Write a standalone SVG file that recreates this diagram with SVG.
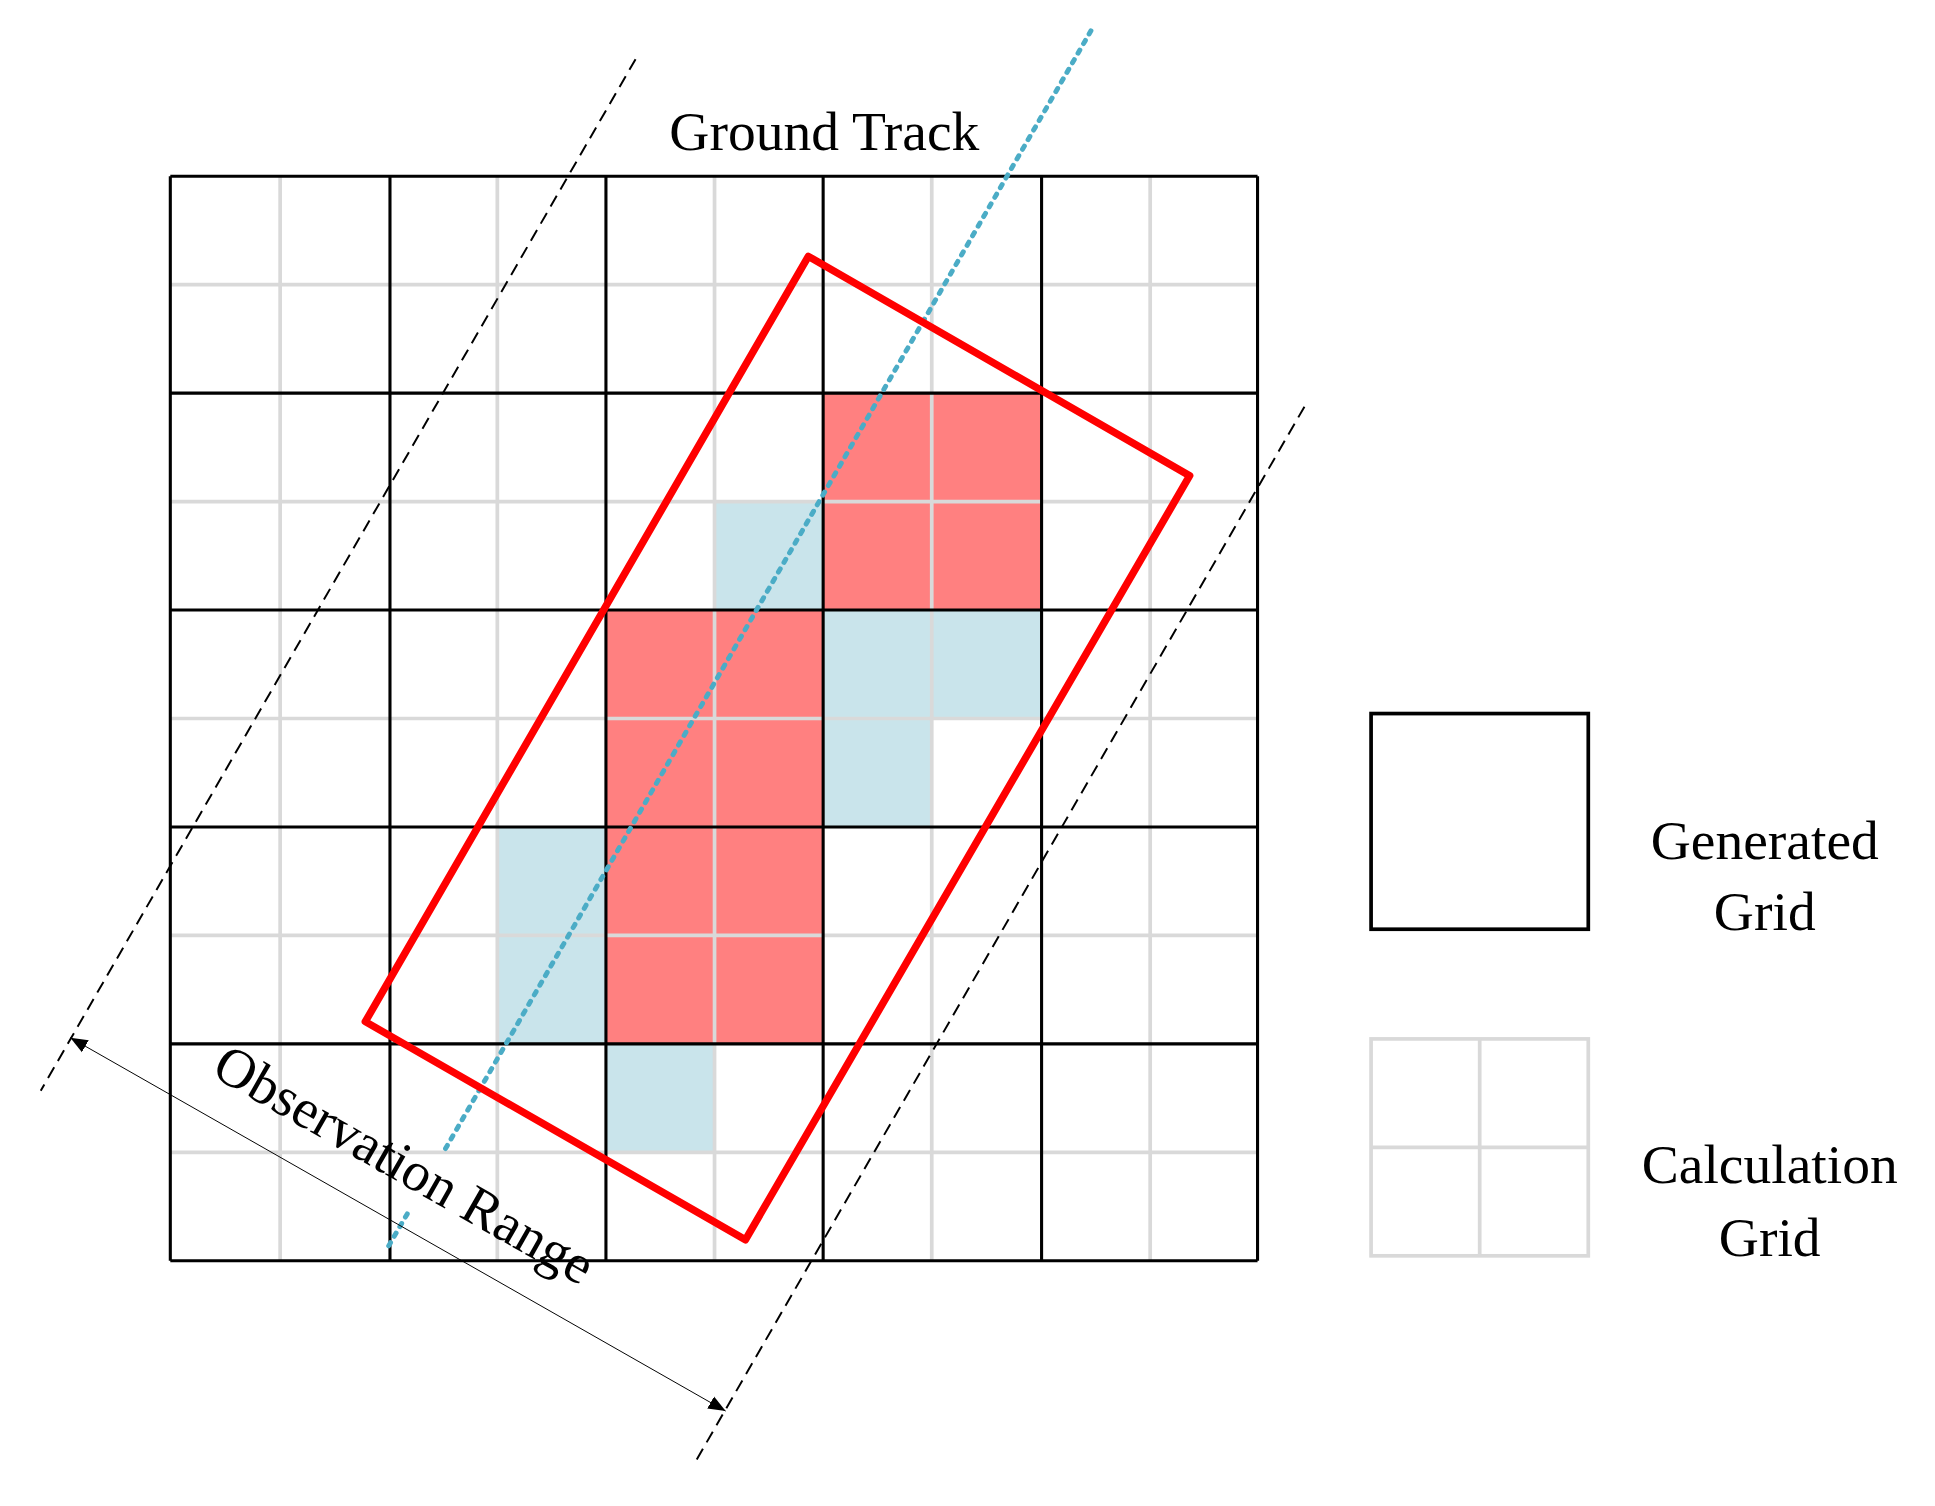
<svg xmlns="http://www.w3.org/2000/svg" width="1935" height="1506" viewBox="0 0 1935 1506">
<style>
.minor{stroke:#d9d9d9;stroke-width:3;fill:none}
.major{stroke:#000;stroke-width:2.5;fill:none}
.red{fill:#ff8080}
.blue{fill:#c9e4eb}
.lbl{font-family:"Liberation Serif",serif;font-size:45px;fill:#000}
</style>
<defs>
<marker id="ah" viewBox="0 0 10 10" refX="10" refY="5" markerWidth="14" markerHeight="14" markerUnits="userSpaceOnUse" orient="auto-start-reverse"><path d="M0,1 L10,5 L0,9 z" fill="#000"/></marker>
</defs>
<rect width="1935" height="1506" fill="#fff"/>
<g transform="scale(1.2341 1.2324)">
<g id="cells">
<rect class="red" x="667" y="319" width="177" height="176"/>
<rect class="red" x="491" y="495" width="176" height="352"/>
<rect class="blue" x="579" y="407" width="88" height="88"/>
<rect class="blue" x="667" y="495" width="177" height="88"/>
<rect class="blue" x="667" y="583" width="88" height="88"/>
<rect class="blue" x="403" y="671" width="88" height="176"/>
<rect class="blue" x="491" y="847" width="88" height="88"/>
</g>
<g id="calc-grid" class="minor">
<path d="M227,143V1023M403,143V1023M579,143V1023M755,143V1023M932,143V1023M138,231H1019M138,407H1019M138,583H1019M138,759H1019M138,935H1019"/>
</g>
<g id="gen-grid" class="major">
<path d="M138,143V1023M316,143V1023M491,143V1023M667,143V1023M844,143V1023M1019,143V1023M138,143H1019M138,319H1019M138,495H1019M138,671H1019M138,847H1019M138,1023H1019"/>
</g>
<g id="connectors">
<line x1="515" y1="48" x2="33" y2="885" stroke="#000" stroke-width="1.6" stroke-dasharray="10,6"/>
<line x1="1057" y1="330" x2="563" y2="1187" stroke="#000" stroke-width="1.6" stroke-dasharray="10,6"/>
<path d="M884,25L361,932M330,985L312,1016" stroke="#4bacc6" stroke-width="4" stroke-dasharray="3,6" stroke-linecap="round" fill="none"/>
<line x1="57" y1="842" x2="588" y2="1145" stroke="#000" stroke-width="0.8" marker-start="url(#ah)" marker-end="url(#ah)"/>
</g>
<g id="observation-box">
<polygon points="655,208 964,386 604,1006 296,829" fill="none" stroke="#ff0000" stroke-width="6" stroke-linejoin="round"/>
</g>
<text class="lbl" x="668" y="122" text-anchor="middle">Ground Track</text>
<text class="lbl" x="170" y="872" transform="rotate(29.7 170 872)">Observation Range</text>
<g id="legend-generated">
<rect x="1111" y="579" width="176" height="175" fill="none" stroke="#000" stroke-width="3"/>
<text class="lbl" x="1430" y="697" text-anchor="middle">Generated</text>
<text class="lbl" x="1430" y="755" text-anchor="middle">Grid</text>
</g>
<g id="legend-calculation">
<rect x="1111" y="843" width="176" height="176" class="minor"/>
<path class="minor" d="M1199,843V1019M1111,931H1287"/>
<text class="lbl" x="1434" y="960" text-anchor="middle">Calculation</text>
<text class="lbl" x="1434" y="1019" text-anchor="middle">Grid</text>
</g>
</g>
</svg>
